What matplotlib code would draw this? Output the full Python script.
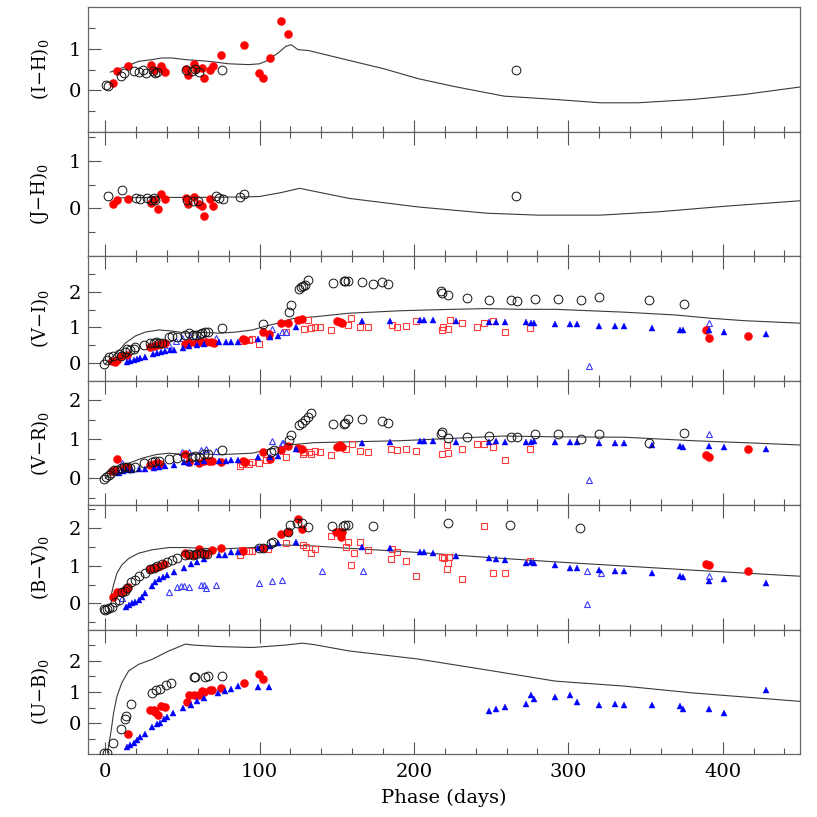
import numpy as np
import matplotlib
matplotlib.use('Agg')
import matplotlib.pyplot as plt

plt.rcParams['font.family'] = ['DejaVu Serif']
plt.rcParams['mathtext.fontset'] = 'dejavuserif'

# ---------------- (I-H)0 ----------------
ih_black = [(0.4, 0.14), (1.7, 0.10), (10.4, 0.34), (12.1, 0.42), (18.9, 0.47), (21.7, 0.45),
            (24.3, 0.49), (26.7, 0.42), (31.2, 0.46), (32.5, 0.42), (33.6, 0.44), (52.5, 0.48),
            (56.0, 0.47), (58.1, 0.52), (60.9, 0.44), (75.7, 0.48), (266.3, 0.50)]
ih_red = [(4.8, 0.18), (7.8, 0.46), (14.8, 0.58), (29.5, 0.60), (31.9, 0.48), (36.4, 0.58),
          (36.9, 0.52), (38.6, 0.44), (52.5, 0.52), (53.6, 0.36), (57.7, 0.63), (58.6, 0.52),
          (62.7, 0.55), (63.8, 0.30), (67.7, 0.50), (69.6, 0.59), (74.8, 0.86), (90.0, 1.10),
          (99.8, 0.42), (102.0, 0.29), (107.0, 0.77), (114.1, 1.67), (118.7, 1.35)]
ih_model = [(3.3, 0.44), (10.8, 0.54), (21.7, 0.70), (30.4, 0.74), (36.4, 0.78), (43.4, 0.78),
            (52, 0.74), (67, 0.70), (80, 0.64), (93, 0.62), (100, 0.64), (104, 0.70), (112, 0.90),
            (117, 1.06), (120.5, 1.10), (124.9, 0.98), (131.6, 0.96), (158.2, 0.72), (180.5, 0.52),
            (202.9, 0.28), (225.1, 0.10), (258.4, -0.14), (291.8, -0.22), (320.7, -0.30),
            (345.1, -0.30), (380.7, -0.22), (414, -0.10), (450, 0.08)]

# ---------------- (J-H)0 ----------------
jh_black = [(1.5, 0.25), (10.8, 0.38), (20.2, 0.22), (22.6, 0.20), (26.9, 0.21), (29.5, 0.17),
            (31.9, 0.21), (32.5, 0.17), (53.1, 0.17), (57.0, 0.15), (60.1, 0.15), (72.0, 0.25),
            (73.8, 0.21), (76.6, 0.19), (87.6, 0.24), (89.8, 0.30), (266.3, 0.25)]
jh_red = [(4.8, 0.09), (7.8, 0.17), (14.8, 0.20), (29.5, 0.12), (31.9, 0.17), (34.5, -0.01),
          (36.4, 0.31), (38.6, 0.19), (52.5, 0.21), (53.6, 0.09), (57.7, 0.24), (60.7, 0.10),
          (62.9, 0.05), (63.8, -0.15), (67.7, 0.20), (69.6, 0.06)]
jh_model = [(8.7, 0.22), (30, 0.23), (60, 0.23), (90, 0.24), (100, 0.25), (113.8, 0.33),
            (125.9, 0.42), (158, 0.21), (203, 0.03), (247.4, -0.10), (280.8, -0.14),
            (320.7, -0.14), (358.5, -0.07), (403, 0.05), (450, 0.16)]

# ---------------- (V-I)0 ----------------
vi_black = [(-0.7, -0.03), (1.1, 0.09), (2.6, 0.16), (4.8, 0.20), (8.7, 0.25), (10.4, 0.20),
            (12.6, 0.32), (14.1, 0.39), (16.3, 0.37), (18.4, 0.39), (19.5, 0.44), (24.9, 0.50),
            (29.3, 0.56), (31.5, 0.56), (33.0, 0.60), (34.7, 0.56), (36.9, 0.56), (41.2, 0.72),
            (43.0, 0.75), (46.6, 0.74), (52.0, 0.78), (54.2, 0.84), (57.0, 0.78), (58.6, 0.78),
            (61.2, 0.81), (62.9, 0.84), (64.6, 0.86), (66.8, 0.87), (75.9, 0.99), (102.4, 1.10),
            (118.9, 1.43), (120.4, 1.62), (125.8, 2.09), (126.9, 2.14), (128.4, 2.16),
            (129.7, 2.20), (131.2, 2.34), (147.5, 2.25), (154.5, 2.30), (155.6, 2.32),
            (157.1, 2.30), (166.2, 2.28), (173.4, 2.21), (179.3, 2.27), (183.4, 2.23),
            (217.8, 2.03), (218.2, 1.96), (222.2, 1.91), (234.2, 1.84), (248.4, 1.77),
            (263.1, 1.77), (266.7, 1.75), (278.2, 1.80), (293.4, 1.81), (308.2, 1.77),
            (319.8, 1.85), (352.2, 1.76), (374.7, 1.66)]
vi_red = [(4.3, 0.07), (6.1, 0.04), (7.6, 0.09), (10.4, 0.20), (14.1, 0.22), (29.3, 0.44),
          (31.5, 0.47), (33.6, 0.50), (36.4, 0.53), (38.6, 0.56), (52.0, 0.53), (54.2, 0.56),
          (58.6, 0.56), (61.8, 0.60), (65.5, 0.60), (68.3, 0.58), (70.5, 0.56), (89.4, 0.67),
          (90.7, 0.65), (102.0, 0.86), (106.3, 0.81), (113.9, 1.12), (118.7, 1.13),
          (124.9, 1.21), (127.6, 1.24), (150.4, 1.19), (152.0, 1.15), (153.3, 1.13),
          (389.4, 0.93), (391.1, 0.70), (416.4, 0.75)]
vi_blue = [(14.1, 0.04), (16.3, 0.07), (18.4, 0.09), (20.6, 0.11), (22.8, 0.13), (25.6, 0.16),
           (31.0, 0.24), (33.6, 0.28), (36.4, 0.32), (39.0, 0.34), (41.9, 0.36), (44.5, 0.37),
           (50.5, 0.43), (54.2, 0.47), (59.7, 0.50), (64.0, 0.53), (73.8, 0.58), (78.1, 0.58),
           (81.8, 0.60), (85.7, 0.60), (98.7, 0.67), (107.0, 0.72), (111.7, 0.76), (123.8, 1.00),
           (166.3, 1.19), (184.4, 1.18), (204.0, 1.21), (206.2, 1.21), (212.2, 1.21),
           (227.3, 1.19), (248.4, 1.16), (253.4, 1.16), (259.0, 1.16), (272.3, 1.16),
           (276.1, 1.13), (277.6, 1.13), (291.2, 1.11), (301.1, 1.11), (305.4, 1.11),
           (320.0, 1.04), (330.2, 1.03), (336.0, 1.03), (354.0, 0.98), (372.2, 0.92),
           (374.2, 0.92), (391.1, 0.92), (401.1, 0.87), (428.0, 0.82)]
vi_blue_open = [(10.0, 0.22), (41.2, 0.50), (46.0, 0.62), (49.9, 0.69), (54.7, 0.76), (59.7, 0.69),
                (64.0, 0.69), (72.0, 0.71), (108.0, 0.97), (114.5, 0.87), (117.1, 0.87),
                (391.1, 1.13), (313.3, -0.08)]
vi_red_open = [(88.9, 0.62), (93.3, 0.65), (95.4, 0.67), (99.8, 0.53), (106.3, 0.76), (117.3, 0.86),
               (129.0, 0.95), (131.6, 1.21), (133.4, 0.99), (135.6, 1.02), (139.4, 1.00),
               (146.1, 0.93), (157.1, 1.08), (159.3, 1.26), (165.0, 1.00), (170.2, 1.00),
               (185.5, 1.08), (189.1, 1.00), (195.1, 1.05), (201.1, 1.19), (218.4, 0.93),
               (218.8, 1.00), (222.2, 0.97), (223.3, 1.21), (231.3, 1.13), (240.6, 1.00),
               (245.5, 1.13), (251.3, 1.19), (259.0, 0.86), (275.3, 0.99)]
vi_model = [(0, -0.03), (4.3, 0.16), (8.7, 0.34), (13, 0.56), (19.5, 0.76), (26, 0.87), (34.7, 0.93),
            (43.4, 0.90), (52, 0.84), (62.9, 0.86), (73.8, 0.84), (84.6, 0.87), (95.4, 0.93),
            (104, 1.04), (112.8, 1.13), (121.5, 1.25), (135.6, 1.30), (158, 1.40), (191.3, 1.47),
            (224.7, 1.51), (247, 1.53), (269.3, 1.51), (291.6, 1.51), (313.9, 1.47),
            (336.2, 1.43), (369.6, 1.35), (391.8, 1.26), (414.1, 1.19), (450, 1.12)]

# ---------------- (V-R)0 ----------------
vr_black = [(-0.7, -0.02), (0.7, 0.04), (2.2, 0.09), (3.9, 0.14), (5.4, 0.20), (7.6, 0.21),
            (10.4, 0.26), (11.9, 0.28), (14.1, 0.28), (16.3, 0.26), (19.1, 0.28), (24.9, 0.38),
            (30.4, 0.40), (32.5, 0.43), (35.1, 0.44), (41.2, 0.49), (46.6, 0.51), (52.0, 0.54),
            (55.9, 0.55), (58.1, 0.57), (60.7, 0.55), (64.0, 0.62), (66.8, 0.62), (75.9, 0.71),
            (107.4, 0.68), (109.5, 0.72), (119.3, 0.98), (120.4, 1.11), (125.8, 1.36),
            (127.6, 1.42), (129.3, 1.49), (131.1, 1.57), (133.3, 1.67), (147.3, 1.40),
            (154.5, 1.40), (155.1, 1.42), (157.3, 1.53), (166.2, 1.53), (179.3, 1.46),
            (183.4, 1.42), (217.8, 1.12), (218.2, 1.19), (222.2, 1.02), (234.2, 1.05),
            (248.4, 1.09), (263.1, 1.06), (266.7, 1.06), (278.2, 1.12), (293.4, 1.12),
            (308.2, 1.00), (319.8, 1.12), (352.2, 0.89), (374.7, 1.15)]
vr_red = [(4.3, 0.17), (6.1, 0.20), (7.6, 0.49), (11.9, 0.26), (14.1, 0.28), (29.3, 0.34),
          (31.5, 0.37), (33.6, 0.38), (35.8, 0.37), (52.0, 0.62), (54.2, 0.40), (60.7, 0.38),
          (64.0, 0.43), (67.3, 0.43), (69.4, 0.43), (74.8, 0.40), (89.4, 0.43), (90.7, 0.40),
          (102.0, 0.67), (107.0, 0.49), (113.9, 0.73), (118.7, 0.83), (124.9, 0.77),
          (127.6, 0.74), (150.4, 0.81), (152.0, 0.85), (153.3, 0.79), (389.4, 0.59),
          (391.1, 0.53), (416.4, 0.75)]
vr_blue = [(8.7, 0.14), (11.3, 0.17), (14.1, 0.20), (17.4, 0.21), (21.7, 0.23), (26.0, 0.23),
           (31.5, 0.26), (34.7, 0.28), (39.0, 0.31), (44.5, 0.34), (50.9, 0.40), (54.2, 0.38),
           (59.7, 0.40), (64.0, 0.43), (73.8, 0.45), (78.1, 0.45), (81.8, 0.47), (85.7, 0.47),
           (98.7, 0.53), (107.0, 0.55), (111.7, 0.57), (123.8, 0.74), (166.3, 0.91),
           (184.4, 0.93), (204.0, 0.95), (206.2, 0.95), (212.2, 0.95), (227.3, 0.93),
           (248.4, 0.93), (253.4, 0.95), (259.0, 0.93), (272.3, 0.93), (276.1, 0.93),
           (277.6, 0.95), (291.2, 0.93), (301.1, 0.93), (305.4, 0.93), (320.0, 0.91),
           (330.2, 0.91), (336.0, 0.89), (354.0, 0.85), (372.2, 0.82), (374.2, 0.81),
           (391.1, 0.82), (401.1, 0.79), (428.0, 0.75)]
vr_blue_open = [(10.8, 0.38), (49.9, 0.66), (54.2, 0.68), (61.8, 0.72), (65.1, 0.74), (72.0, 0.70),
                (108.0, 0.95), (114.5, 0.91), (115.0, 0.91), (391.1, 1.13), (313.3, -0.06)]
vr_red_open = [(87.2, 0.31), (88.9, 0.37), (93.3, 0.37), (95.4, 0.40), (99.8, 0.38), (104.1, 0.47),
               (117.3, 0.53), (128.2, 0.62), (129.0, 0.68), (131.9, 0.66), (133.1, 0.62),
               (135.6, 0.70), (139.4, 0.68), (146.1, 0.58), (156.2, 0.75), (159.6, 0.87),
               (165.0, 0.70), (170.2, 0.68), (185.0, 0.74), (189.1, 0.71), (195.1, 0.75),
               (201.1, 0.70), (218.4, 0.62), (221.3, 0.85), (222.2, 0.65), (231.3, 0.75),
               (240.6, 0.87), (245.5, 0.87), (251.3, 0.79), (259.0, 0.47), (275.3, 0.75)]
vr_model = [(0, 0.0), (4.3, 0.13), (8.7, 0.26), (15.2, 0.38), (23.9, 0.51), (32.5, 0.60), (41.2, 0.64),
            (52, 0.60), (62.9, 0.62), (73.8, 0.60), (84.6, 0.62), (95.4, 0.64), (104.1, 0.72),
            (112.8, 0.79), (121.5, 0.86), (135.6, 0.91), (158, 0.93), (191.3, 0.96),
            (224.7, 1.02), (258, 1.08), (291.6, 1.06), (336.2, 1.05), (380.7, 0.96),
            (414, 0.91), (450, 0.85)]

# ---------------- (B-V)0 ----------------
bv_black = [(-1.1, -0.16), (0.0, -0.18), (1.1, -0.16), (2.6, -0.13), (4.3, -0.09), (6.5, 0.03),
            (8.7, 0.09), (10.8, 0.29), (12.6, 0.33), (14.1, 0.40), (16.9, 0.56), (19.1, 0.62),
            (21.7, 0.73), (25.6, 0.80), (29.3, 0.91), (31.5, 0.95), (33.6, 1.00), (36.9, 1.04),
            (40.1, 1.09), (43.0, 1.15), (46.6, 1.19), (52.0, 1.28), (54.2, 1.30), (56.8, 1.28),
            (58.6, 1.30), (61.8, 1.33), (64.0, 1.30), (66.2, 1.30), (99.8, 1.46), (102.0, 1.48),
            (107.4, 1.59), (108.9, 1.64), (118.5, 1.90), (120.0, 2.08), (124.5, 2.14),
            (127.5, 2.14), (131.6, 2.03), (147.1, 2.05), (154.2, 2.05), (155.6, 2.08),
            (157.3, 2.08), (173.4, 2.05), (222.2, 2.12), (262.2, 2.08), (307.6, 1.99)]
bv_red = [(4.8, 0.16), (7.6, 0.29), (10.4, 0.29), (12.6, 0.35), (14.8, 0.44), (29.3, 0.91),
          (31.5, 0.95), (33.6, 0.97), (35.8, 1.00), (38.0, 1.04), (52.0, 1.33), (53.7, 1.28),
          (57.3, 1.27), (60.7, 1.44), (62.5, 1.33), (65.5, 1.30), (69.4, 1.42), (74.8, 1.46),
          (89.4, 1.39), (102.0, 1.48), (113.9, 1.84), (118.7, 1.88), (124.9, 2.24),
          (127.5, 1.97), (149.3, 1.90), (151.5, 1.88), (152.7, 1.77), (153.3, 1.90),
          (389.4, 1.04), (391.1, 1.02), (416.4, 0.87)]
bv_blue = [(13.4, -0.09), (15.6, -0.04), (17.4, 0.00), (19.5, 0.04), (21.7, 0.09), (23.9, 0.18),
           (25.6, 0.27), (30.4, 0.47), (32.5, 0.56), (35.1, 0.65), (37.3, 0.71), (40.1, 0.75),
           (44.5, 0.84), (50.9, 0.95), (55.3, 1.04), (59.7, 1.09), (64.0, 1.18), (73.8, 1.28),
           (77.7, 1.28), (81.8, 1.35), (85.7, 1.37), (98.7, 1.48), (106.7, 1.53), (111.7, 1.59),
           (123.8, 1.64), (166.3, 1.50), (184.4, 1.46), (204.0, 1.37), (206.2, 1.37),
           (212.2, 1.33), (227.3, 1.25), (248.4, 1.19), (253.4, 1.17), (259.0, 1.15),
           (272.3, 1.08), (276.1, 1.10), (277.6, 1.08), (291.2, 1.02), (301.1, 0.95),
           (305.4, 0.93), (320.0, 0.88), (330.2, 0.86), (336.0, 0.86), (354.0, 0.80),
           (372.2, 0.72), (374.2, 0.71), (391.1, 0.60), (401.1, 0.64), (428.0, 0.53)]
bv_blue_open = [(10.8, 0.13), (41.2, 0.31), (46.6, 0.44), (48.8, 0.46), (50.9, 0.47), (54.2, 0.44),
                (61.8, 0.50), (64.0, 0.50), (65.5, 0.42), (72.0, 0.49), (99.4, 0.53), (108.0, 0.59),
                (114.5, 0.62), (140.6, 0.87), (166.9, 0.87), (312.2, 0.87), (321.0, 0.81),
                (391.1, 0.73), (312.2, -0.03)]
bv_red_open = [(87.2, 1.27), (88.9, 1.42), (93.3, 1.39), (95.4, 1.39), (105.2, 1.44), (117.3, 1.59),
               (128.2, 1.55), (129.8, 1.50), (133.1, 1.34), (136.0, 1.43), (146.1, 1.79),
               (156.2, 1.50), (157.3, 1.62), (159.3, 1.02), (161.1, 1.33), (165.0, 1.62),
               (170.2, 1.41), (185.0, 1.17), (186.1, 1.43), (189.1, 1.35), (195.1, 1.13),
               (201.1, 0.73), (218.4, 1.22), (219.5, 1.20), (221.3, 0.90), (222.2, 1.06),
               (222.9, 1.22), (231.3, 0.64), (245.3, 2.06), (251.3, 0.80), (259.0, 0.81),
               (275.3, 1.13)]
bv_model = [(3.3, 0.12), (5.4, 0.49), (7.6, 0.80), (10.8, 1.02), (15.2, 1.19), (21.7, 1.33),
            (30.4, 1.42), (41.2, 1.48), (52, 1.48), (73.8, 1.44), (95.4, 1.48), (113.8, 1.55),
            (135.6, 1.52), (158, 1.46), (202.6, 1.35), (247, 1.22), (291.6, 1.10),
            (336.2, 0.99), (380.7, 0.88), (450, 0.72)]

# ---------------- (U-B)0 ----------------
ub_black = [(-0.7, -0.95), (1.1, -0.95), (5.0, -0.65), (10.4, -0.19), (12.6, 0.13), (13.4, 0.24),
            (16.7, 0.63), (30.4, 0.97), (33.0, 1.06), (35.8, 1.10), (39.7, 1.21), (42.3, 1.28),
            (57.5, 1.48), (58.1, 1.48), (64.6, 1.48), (66.8, 1.51), (75.9, 1.51)]
ub_red = [(14.8, -0.36), (29.3, 0.43), (31.5, 0.43), (32.5, 0.35), (34.3, 0.27), (36.4, 0.56),
          (38.6, 0.51), (52.7, 0.67), (54.2, 0.89), (57.5, 0.92), (60.7, 0.89), (62.5, 1.03),
          (64.0, 1.01), (67.7, 1.06), (69.4, 1.05), (74.8, 1.14), (90.0, 1.28), (99.8, 1.59),
          (102.0, 1.41)]
ub_blue = [(14.1, -0.78), (16.3, -0.70), (18.4, -0.63), (20.6, -0.54), (22.8, -0.45), (25.6, -0.35),
           (30.4, -0.11), (33.6, -0.03), (35.8, 0.00), (38.0, 0.13), (40.1, 0.19), (44.0, 0.32),
           (50.3, 0.49), (55.3, 0.59), (59.7, 0.70), (64.0, 0.81), (73.3, 0.97), (77.7, 1.03),
           (81.3, 1.11), (85.7, 1.19), (98.7, 1.16), (106.3, 1.16), (248.9, 0.40), (253.4, 0.45),
           (259.0, 0.52), (272.3, 0.62), (276.1, 0.89), (277.6, 0.79), (291.2, 0.84),
           (301.1, 0.90), (305.4, 0.67), (320.0, 0.59), (330.2, 0.63), (336.0, 0.59),
           (354.0, 0.57), (372.2, 0.54), (374.2, 0.46), (391.1, 0.46), (401.1, 0.32), (428.0, 1.08)]
ub_model = [(1.5, -0.95), (3.9, -0.22), (5.4, 0.32), (7.6, 0.86), (10.8, 1.30), (15.2, 1.68),
            (21.7, 1.89), (30.4, 2.05), (41.2, 2.32), (52, 2.54), (56.4, 2.51), (73.8, 2.46),
            (95.4, 2.43), (117.1, 2.51), (127.9, 2.57), (135.6, 2.52), (158, 2.32),
            (202.6, 2.06), (247, 1.71), (291.6, 1.35), (336.2, 1.19), (380.7, 0.97), (450, 0.70)]

panels = [
    ('(I\u2212H)$_0$', (-1.0, 2.0), [0, 1], ih_model, None, None, ih_red, None, ih_black),
    ('(J\u2212H)$_0$', (-1.0, 1.6), [0, 1], jh_model, None, None, jh_red, None, jh_black),
    ('(V\u2212I)$_0$', (-0.5, 3.0), [0, 1, 2], vi_model, vi_red_open, vi_blue_open, vi_red, vi_blue, vi_black),
    ('(V\u2212R)$_0$', (-0.7, 2.5), [0, 1, 2], vr_model, vr_red_open, vr_blue_open, vr_red, vr_blue, vr_black),
    ('(B\u2212V)$_0$', (-0.7, 2.6), [0, 1, 2], bv_model, bv_red_open, bv_blue_open, bv_red, bv_blue, bv_black),
    ('(U\u2212B)$_0$', (-1.0, 3.0), [0, 1, 2], ub_model, None, None, ub_red, ub_blue, ub_black),
]


def xy(pairs):
    a = np.array(pairs, dtype=float)
    return a[:, 0], a[:, 1]


fig, axes = plt.subplots(6, 1, figsize=(8.17, 8.17), dpi=100, sharex=True)
fig.subplots_adjust(left=0.108, right=0.979, bottom=0.0768, top=0.991, hspace=0)

for i, (ax, p) in enumerate(zip(axes, panels)):
    label, ylim, yt, model, redo, blueo, red, blue, black = p
    x, y = xy(model)
    ax.plot(x, y, '-', color='#3a3a3a', lw=0.8, zorder=2)
    if redo is not None:
        x, y = xy(redo)
        ax.plot(x, y, 's', ms=4.2, mfc='none', mec='#ff3b3b', mew=0.8, zorder=3)
    if blueo is not None:
        x, y = xy(blueo)
        ax.plot(x, y, '^', ms=4.8, mfc='none', mec='#3b3bff', mew=0.8, zorder=3)
    x, y = xy(red)
    ax.plot(x, y, 'o', ms=5.8, mfc='#ff0000', mec='#ff0000', mew=0.3, zorder=4)
    if blue is not None:
        x, y = xy(blue)
        ax.plot(x, y, '^', ms=4.6, mfc='#0000ff', mec='#0000ff', mew=0.3, zorder=5)
    x, y = xy(black)
    ax.plot(x, y, 'o', ms=6.3, mfc='none', mec='#111111', mew=0.7, zorder=6)

    ax.set_xlim(-11, 450)
    ax.set_ylim(*ylim)
    ax.set_yticks(yt)
    halves = np.arange(-1.0, 3.01, 0.5)
    ax.set_yticks([h for h in halves if ylim[0] < h < ylim[1] and h not in yt], minor=True)
    ax.set_xticks([0, 100, 200, 300, 400])
    ax.set_xticks(np.arange(0, 451, 20), minor=True)
    ax.tick_params(axis='both', which='both', direction='in', color='#555555', width=0.8,
                   labelsize=14, right=False, top=(i > 0))
    ax.tick_params(axis='y', which='major', length=9, pad=5)
    ax.tick_params(axis='y', which='minor', length=5)
    ax.tick_params(axis='x', which='major', length=9, pad=6)
    ax.tick_params(axis='x', which='minor', length=4.5)
    for s in ax.spines.values():
        s.set_color('#666666')
        s.set_linewidth(0.9)
    ax.set_ylabel(label, fontsize=13)
    ax.yaxis.set_label_coords(-0.052, 0.5)

axes[-1].set_xlabel('Phase (days)', fontsize=14, labelpad=6)

plt.savefig('out.png', dpi=100)
